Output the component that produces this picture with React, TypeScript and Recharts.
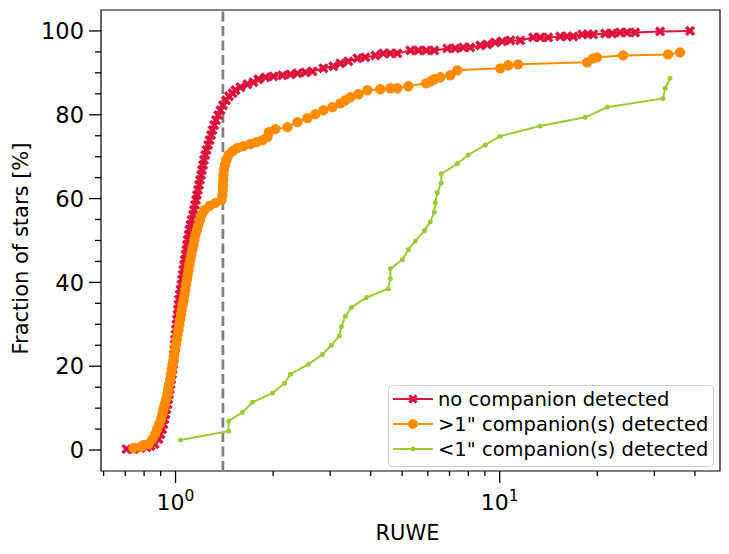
import React from "react";
import {
  Legend,
  Line,
  LineChart,
  ReferenceArea,
  ReferenceLine,
  XAxis,
  YAxis,
} from "recharts";

const FONT = "'DejaVu Sans', 'Liberation Sans', sans-serif";
const RED = "#DC143C";
const ORANGE = "#FF8C00";
const GREEN = "#9ACD32";

// [RUWE, cumulative fraction of stars in %]
const noCompanion: [number, number][] = [
  [0.706, 0.24], [0.742, 0.24], [0.78, 0.48], [0.814, 0.71], [0.838, 0.95],
  [0.862, 1.43], [0.886, 2.62], [0.899, 3.8], [0.909, 4.99], [0.918, 6.18],
  [0.925, 7.37], [0.932, 8.56], [0.938, 9.75], [0.945, 10.94], [0.95, 12.13],
  [0.955, 13.32], [0.96, 14.51], [0.965, 15.7], [0.97, 16.88], [0.975, 18.07],
  [0.979, 19.26], [0.984, 20.45], [0.987, 21.64], [0.989, 22.83], [0.992, 24.02],
  [0.994, 25.21], [0.997, 26.4], [1.0, 27.59], [1.004, 28.78], [1.007, 29.97],
  [1.011, 31.15], [1.014, 32.34], [1.017, 33.53], [1.021, 34.72], [1.025, 35.91],
  [1.031, 37.1], [1.036, 38.29], [1.042, 39.48], [1.047, 40.67], [1.052, 41.86],
  [1.057, 43.04], [1.062, 44.23], [1.068, 45.42], [1.074, 46.61], [1.08, 47.8],
  [1.085, 48.99], [1.09, 50.18], [1.097, 51.37], [1.103, 52.56], [1.112, 53.75],
  [1.12, 54.93], [1.131, 56.12], [1.14, 57.31], [1.148, 58.5], [1.157, 59.69],
  [1.165, 60.88], [1.173, 62.07], [1.182, 63.26], [1.19, 64.45], [1.199, 65.64],
  [1.207, 66.83], [1.216, 68.01], [1.224, 69.2], [1.235, 70.39], [1.246, 71.58],
  [1.26, 72.77], [1.273, 73.96], [1.287, 75.15], [1.3, 76.34], [1.316, 77.53],
  [1.333, 78.72], [1.354, 79.9], [1.376, 81.09], [1.401, 82.28], [1.431, 83.47],
  [1.462, 84.42], [1.499, 85.14], [1.531, 85.85], [1.586, 86.56], [1.667, 87.28],
  [1.739, 87.75], [1.802, 88.47], [1.894, 88.94], [2.004, 89.18], [2.137, 89.42],
  [2.262, 89.66], [2.377, 89.89], [2.516, 90.13], [2.644, 90.37], [2.858, 91.08],
  [3.068, 91.56], [3.225, 92.27], [3.413, 92.75], [3.638, 93.46], [3.85, 93.7],
  [4.134, 94.17], [4.375, 94.65], [4.598, 94.65], [4.832, 94.65], [5.3, 95.36],
  [5.61, 95.36], [5.936, 95.36], [6.284, 95.36], [6.89, 95.84], [7.293, 95.84],
  [7.718, 96.08], [8.114, 96.08], [8.71, 96.55], [9.151, 96.79], [9.685, 97.27],
  [10.18, 97.5], [10.78, 97.74], [11.57, 97.74], [12.68, 98.45], [13.33, 98.45],
  [14.11, 98.45], [15.36, 98.69], [16.14, 98.69], [16.85, 98.69], [17.96, 99.17],
  [18.74, 99.17], [19.42, 99.17], [21.14, 99.4], [22.22, 99.4], [23.51, 99.64],
  [24.71, 99.64], [26.17, 99.64], [31.23, 99.88], [38.65, 100],
];

const wideCompanion: [number, number][] = [
  [0.742, 0.48], [0.78, 0.71], [0.797, 1.19], [0.826, 1.43], [0.849, 2.62],
  [0.865, 3.8], [0.877, 4.99], [0.891, 6.18], [0.902, 7.37], [0.911, 8.56],
  [0.918, 9.75], [0.926, 10.94], [0.935, 12.13], [0.944, 13.32], [0.95, 14.51],
  [0.956, 15.7], [0.963, 16.88], [0.968, 18.07], [0.973, 19.26], [0.98, 20.45],
  [0.986, 21.64], [0.992, 22.83], [0.997, 24.02], [1.003, 25.21], [1.009, 26.4],
  [1.014, 27.59], [1.022, 28.78], [1.027, 29.97], [1.033, 31.15], [1.04, 32.34],
  [1.046, 33.53], [1.052, 34.72], [1.06, 35.91], [1.066, 37.1], [1.072, 38.29],
  [1.078, 39.48], [1.084, 40.67], [1.09, 41.86], [1.097, 43.04], [1.103, 44.23],
  [1.111, 45.42], [1.119, 46.61], [1.127, 47.8], [1.136, 48.99], [1.144, 50.18],
  [1.152, 51.37], [1.165, 52.56], [1.177, 53.75], [1.19, 54.93], [1.203, 56.12],
  [1.229, 57.31], [1.273, 58.26], [1.328, 58.98], [1.386, 59.69], [1.395, 60.88],
  [1.399, 62.07], [1.401, 63.26], [1.403, 64.45], [1.405, 65.64], [1.409, 66.83],
  [1.421, 68.01], [1.436, 69.2], [1.457, 70.39], [1.499, 71.34], [1.553, 72.06],
  [1.62, 72.53], [1.703, 73.01], [1.777, 73.48], [1.854, 73.96], [1.921, 74.67],
  [1.941, 75.86], [2.033, 76.58], [2.214, 77.05], [2.377, 78.24], [2.551, 79.19],
  [2.701, 80.14], [2.858, 81.09], [3.046, 81.81], [3.225, 82.76], [3.342, 83.47],
  [3.463, 84.18], [3.664, 84.9], [3.906, 85.85], [4.283, 86.09], [4.598, 86.33],
  [4.832, 86.33], [5.224, 86.8], [5.936, 87.51], [6.136, 88.0], [6.284, 88.47],
  [6.556, 88.94], [7.039, 89.42], [7.396, 90.61], [10.04, 91.08], [10.62, 91.8],
  [11.4, 92.03], [18.6, 92.51], [19.42, 93.46], [19.97, 93.7], [24.03, 94.17],
  [33.05, 94.41], [35.99, 94.89],
];

const closeCompanion: [number, number][] = [
  [1.036, 2.4], [1.457, 4.5], [1.457, 6.9], [1.609, 9.0], [1.727, 11.4],
  [1.99, 13.6], [2.167, 15.9], [2.262, 18.1], [2.57, 20.5], [2.838, 22.8],
  [3.025, 25.0], [3.202, 27.3], [3.248, 29.5], [3.342, 31.9], [3.486, 34.0],
  [3.879, 36.4], [4.533, 38.5], [4.598, 40.9], [4.598, 43.3], [5.007, 45.4],
  [5.224, 47.8], [5.49, 49.9], [5.854, 52.3], [6.108, 54.5], [6.284, 56.8],
  [6.328, 59.0], [6.419, 61.4], [6.604, 63.7], [6.604, 65.9], [7.396, 68.3],
  [7.995, 70.4], [9.022, 72.8], [10.03, 74.9], [13.33, 77.3], [18.34, 79.4],
  [21.45, 81.8], [31.9, 83.9], [32.4, 86.3], [33.5, 88.7],
];

const seriesNames = [
  "no companion detected",
  '>1" companion(s) detected',
  '<1" companion(s) detected',
];

const ruweCut = 1.4;
const xDomain: [number, number] = [0.589, 47.8];
const yDomain: [number, number] = [-5, 105];
const xMajorTicks = [1, 10];
const xMinorTicks = [0.6, 0.7, 0.8, 0.9, 2, 3, 4, 5, 6, 7, 8, 9, 20, 30, 40];
const yMajorTicks = [0, 20, 40, 60, 80, 100];
const yMinorTicks = [5, 10, 15, 25, 30, 35, 45, 50, 55, 65, 70, 75, 85, 90, 95];

const toPoints = (rows: [number, number][]) =>
  rows.map(([x, y]) => ({ x, y }));

const PLOT = { left: 101, top: 10, right: 720, bottom: 471 };

function XMark({ cx, cy, s = 5.6, a = 1.7, color = RED }: any) {
  return (
    <g transform={`translate(${cx},${cy}) rotate(45)`} fill={color}>
      <rect x={-s} y={-a} width={2 * s} height={2 * a} />
      <rect x={-a} y={-s} width={2 * a} height={2 * s} />
    </g>
  );
}

function XTick({ x, y, payload }: any) {
  const v = payload.value;
  const major = xMajorTicks.includes(v);
  return (
    <g>
      <line x1={x} x2={x} y1={y} y2={y + (major ? 12 : 5)} stroke="#000" strokeWidth={1.3} />
      {major && (
        <text x={x} y={y + 39} textAnchor="middle" fontSize={22} fontFamily={FONT} fill="#000">
          10
          <tspan dy={-9} fontSize={15.5}>
            {Math.round(Math.log10(v))}
          </tspan>
        </text>
      )}
    </g>
  );
}

function YTick({ x, y, payload }: any) {
  const v = payload.value;
  const major = yMajorTicks.includes(v);
  return (
    <g>
      <line x1={x - (major ? 12 : 6)} x2={x} y1={y} y2={y} stroke="#000" strokeWidth={1.3} />
      {major && (
        <text x={x - 17} y={y} dy="0.36em" textAnchor="end" fontSize={22.5} fontFamily={FONT} fill="#000">
          {v}
        </text>
      )}
    </g>
  );
}

function LegendBox() {
  const rowY = [14, 39, 64];
  return (
    <svg width={326} height={82} style={{ display: "block" }}>
      <rect x={0.5} y={0.5} width={325} height={81} rx={4} fill="rgba(255,255,255,0.8)" stroke="#cccccc" />
      {[RED, ORANGE, GREEN].map((c, i) => (
        <g key={c}>
          <line x1={5} x2={45} y1={rowY[i]} y2={rowY[i]} stroke={c} strokeWidth={2} />
          {i === 0 && <XMark cx={25} cy={rowY[i]} s={5} a={1.6} />}
          {i === 1 && <circle cx={25} cy={rowY[i]} r={5} fill={ORANGE} />}
          {i === 2 && <circle cx={25} cy={rowY[i]} r={2.4} fill={GREEN} />}
          <text x={50} y={rowY[i]} dy="0.36em" fontSize={19.5} fontFamily={FONT} fill="#000">
            {seriesNames[i]}
          </text>
        </g>
      ))}
    </svg>
  );
}

export default function App() {
  const yMid = (PLOT.top + PLOT.bottom) / 2 + 8;
  return (
    <div style={{ position: "absolute", left: 0, top: 0, width: 729, height: 554, background: "#fff" }}>
      <LineChart
        width={729}
        height={554}
        margin={{ top: PLOT.top, right: 729 - PLOT.right, bottom: 0, left: 0 }}
        style={{ fontFamily: FONT }}
      >
        <XAxis
          dataKey="x"
          type="number"
          scale="log"
          domain={xDomain}
          allowDataOverflow
          ticks={[...xMinorTicks, ...xMajorTicks].sort((a, b) => a - b)}
          interval={0}
          height={554 - PLOT.bottom}
          tickSize={0}
          tickMargin={0}
          tickLine={false}
          axisLine={false}
          tick={XTick}
          label={() => (
            <text
              x={(PLOT.left + PLOT.right) / 2 - 3}
              y={540}
              textAnchor="middle"
              fontSize={21}
              fontFamily={FONT}
              fill="#000"
            >
              RUWE
            </text>
          )}
        />
        <YAxis
          dataKey="y"
          type="number"
          domain={yDomain}
          allowDataOverflow
          ticks={[...yMinorTicks, ...yMajorTicks].sort((a, b) => a - b)}
          interval={0}
          width={PLOT.left}
          tickSize={0}
          tickMargin={0}
          tickLine={false}
          axisLine={false}
          tick={YTick}
          label={() => (
            <text
              x={21}
              y={yMid}
              transform={`rotate(-90 21 ${yMid})`}
              textAnchor="middle"
              dominantBaseline="central"
              fontSize={21}
              fontFamily={FONT}
              fill="#000"
            >
              Fraction of stars [%]
            </text>
          )}
        />
        <ReferenceLine
          x={ruweCut}
          stroke="#808080"
          strokeWidth={2.8}
          strokeDasharray="10 4.5"
        />
        <Line
          data={toPoints(noCompanion)}
          dataKey="y"
          type="linear"
          stroke={RED}
          strokeWidth={2}
          isAnimationActive={false}
          activeDot={false}
          dot={(p: any) => <XMark key={`r${p.index}`} cx={p.cx} cy={p.cy} />}
        />
        <Line
          data={toPoints(wideCompanion)}
          dataKey="y"
          type="linear"
          stroke={ORANGE}
          strokeWidth={2}
          isAnimationActive={false}
          activeDot={false}
          dot={(p: any) => (
            <circle key={`o${p.index}`} cx={p.cx} cy={p.cy} r={5.2} fill={ORANGE} />
          )}
        />
        <Line
          data={toPoints(closeCompanion)}
          dataKey="y"
          type="linear"
          stroke={GREEN}
          strokeWidth={2}
          isAnimationActive={false}
          activeDot={false}
          dot={(p: any) => (
            <circle key={`g${p.index}`} cx={p.cx} cy={p.cy} r={2.5} fill={GREEN} />
          )}
        />
        <ReferenceArea
          x1={xDomain[0]}
          x2={xDomain[1]}
          y1={yDomain[0]}
          y2={yDomain[1]}
          fill="none"
          fillOpacity={0}
          stroke="#000"
          strokeWidth={1.2}
          ifOverflow="visible"
        />
        <Legend
          layout="vertical"
          align="center"
          verticalAlign="middle"
          content={() => <LegendBox />}
          wrapperStyle={{ position: "absolute", left: 388, top: 385, width: 326, height: 82 }}
        />
      </LineChart>
    </div>
  );
}
